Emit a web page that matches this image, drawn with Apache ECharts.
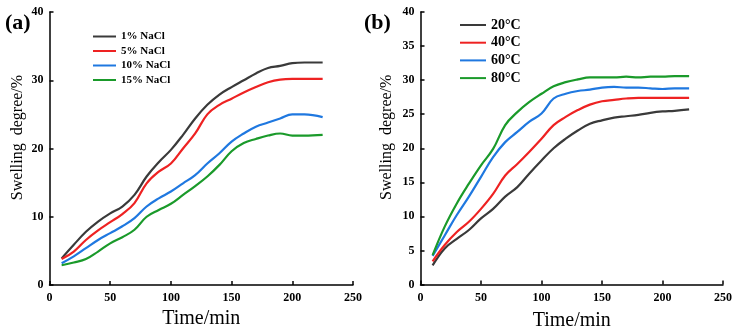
<!DOCTYPE html>
<html>
<head>
<meta charset="utf-8">
<script src="https://cdn.jsdelivr.net/npm/echarts@6/dist/echarts.min.js"></script>
<style>
  html, body { margin: 0; padding: 0; background: #fff; }
  #chart { width: 736px; height: 333px; }
</style>
</head>
<body>
<div id="chart"></div>
<script>
// panel (a): NaCl concentration
const timeA = [10, 20, 30, 40, 50, 60, 70, 80, 90, 100, 110, 120, 130, 140, 150, 160, 170, 180, 190, 200, 210, 225]
const nacl1 = [3.9, 5.9, 7.8, 9.3, 10.5, 11.5, 13.2, 15.9, 18.0, 19.8, 22.0, 24.4, 26.4, 27.9, 29.0, 30.0, 31.0, 31.8, 32.1, 32.5, 32.6, 32.6]
const nacl5 = [3.8, 4.9, 6.6, 8.0, 9.2, 10.4, 12.0, 14.9, 16.6, 17.8, 20.0, 22.2, 25.0, 26.4, 27.3, 28.2, 29.0, 29.7, 30.1, 30.2, 30.2, 30.2]
const nacl10 = [3.2, 4.2, 5.4, 6.6, 7.6, 8.6, 9.8, 11.5, 12.7, 13.7, 14.9, 16.1, 17.8, 19.3, 21.0, 22.2, 23.2, 23.8, 24.4, 25.0, 25.0, 24.6]
const nacl15 = [2.9, 3.3, 3.8, 4.9, 6.1, 7.0, 8.1, 10.0, 11.0, 11.9, 13.2, 14.5, 15.9, 17.6, 19.6, 20.8, 21.4, 21.9, 22.2, 21.9, 21.9, 22.0]

// panel (b): temperature
const timeB = [10, 20, 30, 40, 50, 60, 70, 80, 90, 100, 110, 120, 130, 140, 150, 160, 170, 180, 190, 200, 210, 222]
const temp20 = [2.8, 5.3, 6.7, 8.0, 9.7, 11.1, 12.9, 14.3, 16.3, 18.2, 20.0, 21.4, 22.6, 23.6, 24.1, 24.5, 24.7, 24.9, 25.2, 25.4, 25.5, 25.7]
const temp40 = [3.4, 5.8, 7.7, 9.2, 11.1, 13.3, 16.0, 17.7, 19.5, 21.4, 23.4, 24.6, 25.6, 26.4, 26.9, 27.1, 27.3, 27.4, 27.4, 27.4, 27.4, 27.4]
const temp60 = [4.2, 7.2, 10.2, 12.9, 15.8, 18.7, 20.9, 22.4, 23.9, 25.1, 27.3, 28.0, 28.4, 28.6, 28.9, 29.0, 28.9, 28.9, 28.8, 28.7, 28.8, 28.8]
const temp80 = [4.3, 8.5, 11.9, 14.8, 17.5, 19.9, 23.4, 25.3, 26.8, 28.0, 29.1, 29.7, 30.1, 30.4, 30.4, 30.4, 30.5, 30.4, 30.5, 30.5, 30.6, 30.6]

const namesA = ["1% NaCl", "5% NaCl", "10% NaCl", "15% NaCl"]
const namesB = ["20°C", "40°C", "60°C", "80°C"]
const colors = ["#3a3a3a", "#ee2222", "#1f78e0", "#1a9a2a"]

const serif = "Liberation Serif"

function pair(xs, ys) {
  return xs.map((x, i) => [x, ys[i]])
}

function xAxis(idx) {
  return {
    gridIndex: idx, type: "value", min: 0, max: 250, interval: 50,
    name: "Time/min", nameLocation: "middle", nameGap: idx === 0 ? 24 : 26,
    nameTextStyle: { fontFamily: serif, fontSize: 20, color: "#000" },
    axisLine: { show: true, lineStyle: { color: "#000", width: 1.5 } },
    axisTick: { show: true, inside: true, length: 4, lineStyle: { color: "#000", width: 1.5 } },
    axisLabel: { fontFamily: serif, fontWeight: "bold", fontSize: 12, color: "#000", margin: 7 },
    splitLine: { show: false }
  }
}

function yAxis(idx, step) {
  return {
    gridIndex: idx, type: "value", min: 0, max: 40, interval: step,
    name: "Swelling  degree/%", nameLocation: "middle", nameGap: idx === 0 ? 24 : 26,
    nameTextStyle: { fontFamily: serif, fontSize: 16, color: "#000", padding: [0, 0, 0, 22] },
    axisLine: { show: true, lineStyle: { color: "#000", width: 1.5 } },
    axisTick: { show: true, inside: true, length: 4, lineStyle: { color: "#000", width: 1.5 } },
    axisLabel: { fontFamily: serif, fontWeight: "bold", fontSize: 12, color: "#000", margin: 6 },
    splitLine: { show: false }
  }
}

function line(name, idx, xs, ys, c) {
  return {
    name: name, type: "line", xAxisIndex: idx, yAxisIndex: idx,
    data: pair(xs, ys), smooth: 0.4, showSymbol: false,
    lineStyle: { color: c, width: 2.2 }, itemStyle: { color: c }
  }
}

let myChart = echarts.init(document.getElementById("chart"))
myChart.setOption({
  animation: false,
  color: colors,
  grid: [
    { left: 49.5, right: 383, top: 12, bottom: 48, outerBoundsMode: "none" },
    { left: 420.5, right: 13, top: 12, bottom: 48.5, outerBoundsMode: "none" }
  ],
  xAxis: [xAxis(0), xAxis(1)],
  yAxis: [yAxis(0, 10), yAxis(1, 5)],
  legend: [
    {
      data: namesA, orient: "vertical", left: 88, top: 26,
      itemWidth: 23, itemHeight: 2, itemGap: 3.5, icon: "rect",
      textStyle: { fontFamily: serif, fontWeight: "bold", fontSize: 11, color: "#000" }
    },
    {
      data: namesB, orient: "vertical", left: 455, top: 13,
      itemWidth: 26, itemHeight: 2, itemGap: 3.7, icon: "rect",
      textStyle: { fontFamily: serif, fontWeight: "bold", fontSize: 14, color: "#000" }
    }
  ],
  graphic: [
    { type: "text", left: 5, top: 12, style: { text: "(a)", font: "bold 22px 'Liberation Serif'", fill: "#000" } },
    { type: "text", left: 364, top: 12, style: { text: "(b)", font: "bold 22px 'Liberation Serif'", fill: "#000" } }
  ],
  series: [
    line(namesA[0], 0, timeA, nacl1, colors[0]),
    line(namesA[1], 0, timeA, nacl5, colors[1]),
    line(namesA[2], 0, timeA, nacl10, colors[2]),
    line(namesA[3], 0, timeA, nacl15, colors[3]),
    line(namesB[0], 1, timeB, temp20, colors[0]),
    line(namesB[1], 1, timeB, temp40, colors[1]),
    line(namesB[2], 1, timeB, temp60, colors[2]),
    line(namesB[3], 1, timeB, temp80, colors[3])
  ]
})
</script>
</body>
</html>
